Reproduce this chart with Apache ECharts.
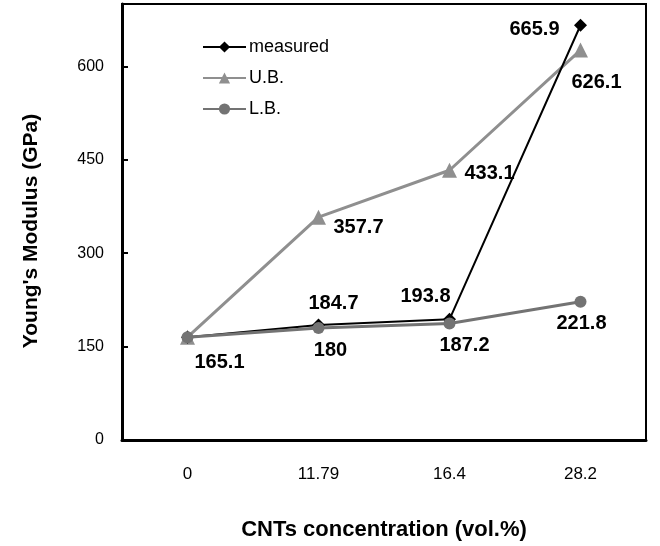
<!DOCTYPE html>
<html>
<head>
<meta charset="utf-8">
<script src="https://cdn.jsdelivr.net/npm/echarts@6/dist/echarts.min.js"></script>
<style>
  html, body { margin: 0; padding: 0; background: #fff; }
  #chart { width: 660px; height: 546px; }
</style>
</head>
<body>
<div id="chart"></div>
<script>
// CNT volume fractions (category axis)
const concentrations = ['0', '11.79', '16.4', '28.2'];

// Young's modulus values (GPa)
const measured = [165.1, 184.7, 193.8, 665.9];
const upperBound = [165.1, 357.7, 433.1, 626.1];
const lowerBound = [165.1, 180, 187.2, 221.8];

// Label placement per point: [dx, dy] from the marker centre; null hides the label
const measuredLabelOffsets = [null, [15, -21], [-24, -23], [-46, 4]];
const upperLabelOffsets = [null, [40, 10], [40, 3], [16, 32]];
const lowerLabelOffsets = [[32, 25], [12, 23], [15, 22], [1, 22]];

const labelFont = {
  fontFamily: 'Liberation Sans, Arial, sans-serif',
  fontWeight: 'bold',
  fontSize: 20,
  color: '#000'
};

function withLabels(values, offsets) {
  return values.map((v, i) => {
    const off = offsets[i];
    if (!off) return { value: v, label: { show: false } };
    return {
      value: v,
      label: Object.assign({
        show: true,
        position: 'inside',
        offset: off,
        align: 'center',
        verticalAlign: 'middle'
      }, labelFont)
    };
  });
}

const chart = echarts.init(document.getElementById('chart'), null, { renderer: 'canvas' });

chart.setOption({
  animation: false,
  backgroundColor: '#fff',
  grid: {
    left: 122, right: 14, top: 4, bottom: 102,
    show: true,
    borderColor: '#000',
    borderWidth: 2
  },
  legend: {
    data: ['measured', 'U.B.', 'L.B.'],
    orient: 'vertical',
    left: 197,
    top: 33,
    itemWidth: 43,
    itemHeight: 14,
    itemGap: 13,
    textStyle: {
      fontFamily: 'Liberation Sans, Arial, sans-serif',
      fontSize: 18,
      color: '#000',
      padding: [0, 0, 0, -2]
    }
  },
  xAxis: {
    type: 'category',
    data: concentrations,
    boundaryGap: true,
    name: 'CNTs concentration (vol.%)',
    nameLocation: 'middle',
    nameGap: 79,
    nameTextStyle: {
      fontFamily: 'Liberation Sans, Arial, sans-serif',
      fontWeight: 'bold',
      fontSize: 22,
      color: '#000'
    },
    axisLine: { lineStyle: { color: '#000', width: 3 } },
    axisTick: { inside: true, length: 6, lineStyle: { color: '#000', width: 2 } },
    axisLabel: {
      margin: 26,
      fontFamily: 'Liberation Sans, Arial, sans-serif',
      fontSize: 17,
      color: '#000'
    },
    splitLine: { show: false }
  },
  yAxis: {
    type: 'value',
    min: 0,
    max: 700,
    interval: 150,
    name: "Young's Modulus (GPa)",
    nameLocation: 'middle',
    nameGap: 80,
    nameTextStyle: {
      fontFamily: 'Liberation Sans, Arial, sans-serif',
      fontWeight: 'bold',
      fontSize: 21,
      color: '#000',
      padding: [0, 18, 0, 0]
    },
    axisLine: { show: true, lineStyle: { color: '#000', width: 3 } },
    axisTick: { show: true, inside: true, length: 6, lineStyle: { color: '#000', width: 2 } },
    axisLabel: {
      margin: 18,
      showMaxLabel: false,
      fontFamily: 'Liberation Sans, Arial, sans-serif',
      fontSize: 16,
      color: '#000'
    },
    splitLine: { show: false }
  },
  series: [
    {
      name: 'U.B.',
      type: 'line',
      data: withLabels(upperBound, upperLabelOffsets),
      symbol: 'triangle',
      symbolSize: 15,
      itemStyle: { color: '#8f8f8f' },
      lineStyle: { color: '#8f8f8f', width: 3 },
      z: 2
    },
    {
      name: 'measured',
      type: 'line',
      data: withLabels(measured, measuredLabelOffsets),
      symbol: 'diamond',
      symbolSize: 13,
      itemStyle: { color: '#000' },
      lineStyle: { color: '#000', width: 2 },
      z: 3
    },
    {
      name: 'L.B.',
      type: 'line',
      data: withLabels(lowerBound, lowerLabelOffsets),
      symbol: 'circle',
      symbolSize: 12,
      itemStyle: { color: '#737373' },
      lineStyle: { color: '#737373', width: 3 },
      z: 4
    }
  ]
});
</script>
</body>
</html>
